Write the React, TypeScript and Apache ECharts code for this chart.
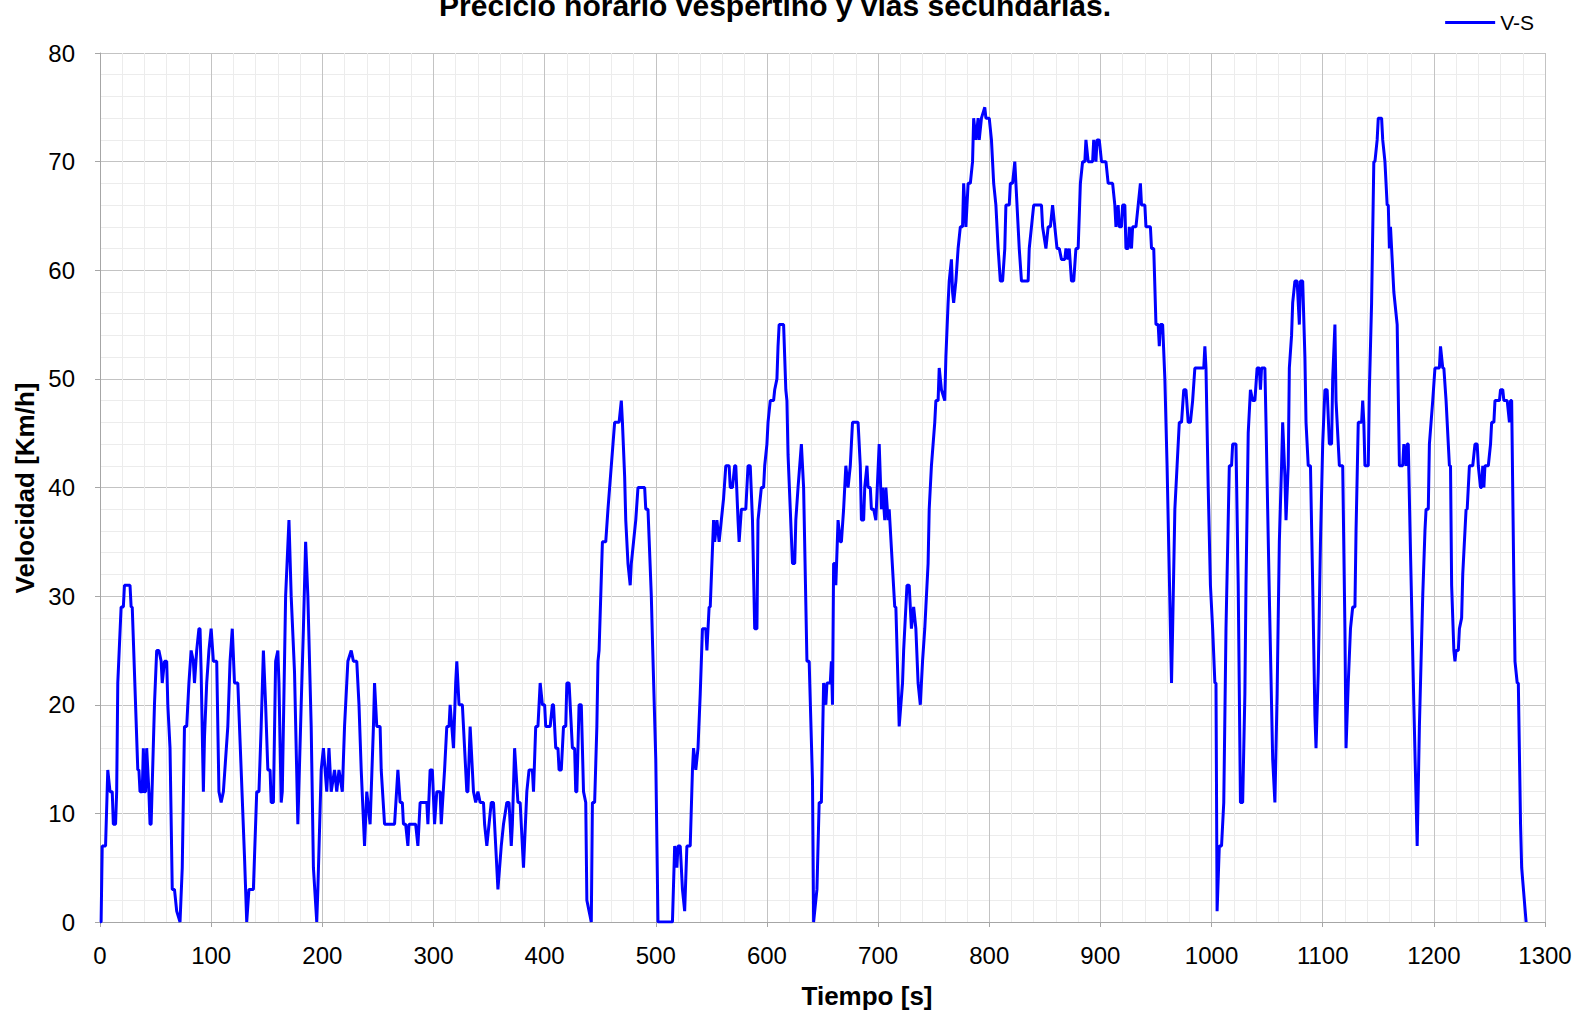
import React, { useEffect, useRef } from "react";
import * as echarts from "echarts";

// Velocidad registrada [tiempo s, velocidad km/h], por tramos
const tramo1 = [
  [0, 0], [1, 0], [2, 7], [5, 7], [7, 14], [9, 12], [11, 12], [12, 9], [14, 9], [15, 12], [16, 22], [19, 29], [21, 29], [22, 31], [27, 31], [28, 29], [29, 29], [34, 14], [35, 14], [36, 12], [38, 12], [39, 16], [40, 12], [41, 12], [42, 16], [44, 12], [45, 9], [46, 9], [49, 20], [51, 25], [53, 25], [55, 24], [56, 22], [58, 24], [60, 24], [61, 20], [63, 16], [65, 3], [67, 3], [69, 1], [72, 0], [74, 5], [76, 18], [78, 18], [80, 22], [82, 25], [84, 24], [85, 22], [87, 25], [89, 27], [90, 27], [91, 23], [93, 12], [94, 17], [96, 22], [98, 25], [100, 27], [102, 24], [105, 24], [107, 12], [109, 11], [111, 12], [115, 18], [117, 24], [119, 27], [121, 22], [124, 22], [127, 14], [130, 6], [132, 0], [134, 3], [138, 3], [141, 12], [143, 12], [145, 18], [147, 25], [149, 20], [151, 14], [153, 14], [154, 11], [156, 11], [158, 24], [160, 25], [161, 22], [163, 11], [164, 12], [167, 30], [170, 37], [172, 30], [175, 23], [178, 9], [181, 20], [183, 27], [185, 35], [187, 30], [190, 18], [192, 5], [195, 0], [196, 3], [199, 14], [201, 16], [204, 12], [206, 16], [208, 12], [211, 14], [213, 12], [215, 14], [218, 12],
];
const tramo2 = [
  [220, 18], [222, 22], [223, 24], [226, 25], [228, 24], [231, 24], [233, 20], [235, 14], [238, 7], [240, 12], [243, 9], [244, 12], [246, 18], [247, 22], [249, 18], [252, 18], [253, 14], [256, 9], [265, 9], [268, 14], [270, 11], [272, 11], [273, 9], [275, 9], [277, 7], [278, 9], [284, 9], [286, 7], [288, 11], [294, 11], [295, 9], [297, 14], [299, 14], [301, 9], [303, 12], [306, 12], [307, 9], [310, 14], [312, 18], [314, 18], [315, 20], [318, 16], [320, 22], [321, 24], [323, 20], [326, 20], [327, 18], [330, 12], [331, 12], [333, 18], [336, 12], [338, 11], [340, 12], [342, 11], [345, 11], [346, 9], [348, 7], [350, 9], [352, 11], [354, 11], [356, 7], [358, 3], [361, 7], [363, 9], [366, 11], [368, 11], [370, 7], [371, 9], [373, 16], [376, 11], [378, 11], [380, 7], [381, 5], [384, 12], [386, 14], [389, 14], [390, 12], [392, 18], [394, 18], [396, 22], [398, 20], [400, 20], [401, 18], [405, 18], [407, 20], [408, 20], [410, 16], [412, 16], [413, 14], [415, 14], [417, 18], [419, 18], [420, 22], [422, 22], [425, 16], [427, 16], [428, 12], [429, 12], [431, 20], [433, 20], [435, 12], [437, 11], [438, 2], [440, 1],
];
const tramo3 = [
  [442, 0], [443, 11], [445, 11], [447, 18], [448, 24], [449, 25], [452, 35], [455, 35], [457, 38], [463, 46], [467, 46], [469, 48], [470, 46], [472, 41], [473, 37], [475, 33], [477, 31], [478, 33], [480, 35], [482, 37], [484, 40], [490, 40], [491, 38], [493, 38], [496, 30], [497, 26], [500, 15], [502, 0], [515, 0], [517, 7], [519, 5], [520, 7], [522, 7], [524, 3], [526, 1], [528, 7], [531, 7], [533, 14], [534, 16], [536, 14], [538, 16], [540, 21], [542, 27], [545, 27], [546, 25], [548, 29], [549, 29], [552, 37], [553, 35], [555, 37], [557, 35], [559, 37], [561, 39], [563, 42], [566, 42], [567, 40], [569, 40], [571, 42], [572, 42], [574, 37], [575, 35], [577, 38], [581, 38], [583, 42], [585, 42], [587, 37], [589, 27], [591, 27], [592, 37], [595, 40], [597, 40], [598, 42], [600, 44], [601, 46], [603, 48], [606, 48], [607, 49], [609, 50], [610, 53], [611, 55], [615, 55], [617, 49], [618, 48], [619, 43], [623, 33], [625, 33], [626, 37], [628, 40], [631, 44], [633, 40], [636, 24], [638, 24], [641, 13], [642, 0], [645, 3], [647, 11], [649, 11], [651, 22], [653, 20], [654, 22], [657, 22], [658, 24], [659, 20],
];
const tramo4 = [
  [660, 33], [661, 33], [662, 31], [664, 37], [666, 35], [667, 35], [669, 38], [671, 42], [673, 40], [675, 42], [676, 44], [677, 46], [682, 46], [684, 42], [685, 37], [687, 37], [688, 40], [690, 42], [691, 40], [693, 40], [694, 38], [696, 38], [698, 37], [701, 44], [703, 38], [704, 40], [706, 37], [707, 40], [709, 37], [710, 38], [715, 29], [716, 29], [719, 18], [722, 22], [723, 25], [725, 29], [726, 31], [728, 31], [730, 27], [732, 29], [734, 27], [736, 22], [738, 20], [740, 24], [742, 27], [743, 29], [745, 33], [746, 38], [748, 42], [751, 46], [752, 48], [754, 48], [755, 51], [757, 49], [760, 48], [761, 52], [763, 57], [764, 59], [766, 61], [767, 58], [768, 57], [770, 59], [772, 62], [774, 64], [776, 64], [777, 68], [779, 64], [780, 66], [781, 68], [783, 68], [785, 70], [786, 74], [788, 72], [790, 74], [791, 72], [793, 74], [796, 75], [797, 74], [800, 74], [802, 72], [804, 68], [806, 66], [808, 62], [810, 59], [812, 59], [814, 62], [815, 66], [818, 66], [819, 68], [821, 68], [823, 70], [824, 68], [827, 62], [829, 59], [835, 59], [836, 62], [838, 64], [840, 66], [847, 66], [848, 64], [851, 62], [853, 64], [855, 64], [857, 66], [859, 64], [861, 62], [863, 62], [865, 61], [868, 61], [869, 62], [871, 61], [872, 62], [874, 59], [876, 59], [878, 62],
];
const tramo5 = [
  [880, 62], [882, 68], [884, 70], [886, 70], [887, 72], [889, 70], [893, 70], [894, 72], [896, 70], [897, 72], [899, 72], [901, 70], [905, 70], [907, 68], [911, 68], [913, 66], [914, 64], [916, 66], [917, 64], [919, 64], [920, 66], [922, 66], [923, 62], [925, 62], [926, 64], [928, 62], [929, 64], [932, 64], [934, 66], [936, 68], [937, 66], [940, 66], [941, 64], [945, 64], [946, 62], [948, 62], [950, 55], [952, 55], [953, 53], [954, 55], [956, 55], [958, 50], [960, 42], [962, 32], [964, 22], [965, 27], [967, 38], [969, 42], [971, 46], [973, 46], [975, 49], [977, 49], [979, 46], [981, 46], [983, 48], [985, 51], [988, 51], [993, 51], [994, 53], [995, 51], [997, 40], [999, 31], [1001, 27], [1003, 22], [1004, 22], [1005, 1], [1007, 7], [1009, 7], [1011, 11], [1013, 27], [1016, 42], [1018, 42], [1019, 44], [1022, 44], [1024, 31], [1026, 11], [1028, 11], [1030, 21], [1031, 31], [1033, 45], [1035, 49], [1037, 48], [1039, 48], [1041, 51], [1043, 51], [1044, 49], [1045, 51], [1048, 51], [1049, 46], [1052, 30], [1055, 15], [1057, 11], [1059, 21], [1061, 35], [1063, 42], [1064, 46], [1066, 41], [1067, 37], [1069, 42], [1070, 51], [1072, 54], [1073, 57], [1075, 59], [1077, 59], [1079, 55], [1080, 59], [1082, 59], [1084, 52], [1085, 46], [1087, 42], [1089, 42], [1091, 31], [1093, 19], [1094, 16], [1096, 23], [1098, 35],
];
const tramo6 = [
  [1100, 44], [1102, 49], [1104, 49], [1106, 44], [1108, 44], [1109, 50], [1111, 55], [1112, 48], [1114, 44], [1115, 42], [1118, 42], [1120, 27], [1121, 16], [1123, 22], [1125, 27], [1127, 29], [1129, 29], [1130, 36], [1132, 46], [1135, 46], [1136, 48], [1137, 46], [1138, 42], [1141, 42], [1142, 49], [1144, 57], [1146, 70], [1147, 70], [1149, 72], [1150, 74], [1153, 74], [1154, 72], [1156, 70], [1158, 66], [1159, 66], [1160, 62], [1161, 64], [1162, 62], [1164, 58], [1167, 55], [1169, 42], [1172, 42], [1173, 44], [1175, 42], [1176, 44], [1177, 44], [1179, 34], [1182, 20], [1185, 7], [1187, 18], [1189, 26], [1190, 30], [1192, 36], [1193, 38], [1195, 38], [1196, 44], [1199, 48], [1201, 51], [1205, 51], [1206, 53], [1208, 51], [1209, 51], [1211, 48], [1213, 44], [1214, 42], [1215, 42], [1216, 31], [1218, 25], [1219, 24], [1220, 25], [1222, 25], [1223, 27], [1225, 28], [1226, 32], [1229, 38], [1230, 38], [1232, 42], [1235, 42], [1237, 44], [1239, 44], [1240, 42], [1242, 40], [1243, 40], [1244, 42], [1245, 40], [1246, 42], [1249, 42], [1251, 44], [1252, 46], [1254, 46], [1255, 48], [1259, 48], [1260, 49], [1262, 49], [1263, 48], [1266, 48], [1268, 46], [1269, 48], [1270, 48], [1272, 31], [1273, 24], [1275, 22], [1276, 22], [1278, 9], [1279, 5], [1283, 0],
];

const serieNombre = "V-S";
const titulo = "Precicio horario vespertino y vías secundarias.";
const ejeX = "Tiempo [s]";
const ejeY = "Velocidad [Km/h]";

const FONT = '"Liberation Sans", Arial, sans-serif';

export default function App() {
  const ref = useRef<HTMLDivElement>(null);

  useEffect(() => {
    if (!ref.current) return;
    const chart = echarts.init(ref.current, undefined, { renderer: "svg" });
    const datos = [...tramo1, ...tramo2, ...tramo3, ...tramo4, ...tramo5, ...tramo6];

    const etiqueta = {
      fontSize: 24,
      color: "#000",
      fontFamily: FONT,
      formatter: (v: number) => String(v),
    };

    chart.setOption({
      animation: false,
      backgroundColor: "#ffffff",
      textStyle: { fontFamily: FONT },
      grid: { left: 100, right: 36, top: 53, bottom: 92, containLabel: false },
      legend: {
        right: 42,
        top: 7,
        icon: "rect",
        itemWidth: 50,
        itemHeight: 3,
        itemGap: 5,
        textStyle: { fontSize: 21, color: "#000", fontFamily: FONT },
        data: [serieNombre],
      },
      xAxis: {
        type: "value",
        min: 0,
        max: 1300,
        interval: 100,
        axisLine: { show: true, lineStyle: { color: "#a6a6a6", width: 1 } },
        axisTick: { show: true, length: 5, lineStyle: { color: "#a6a6a6" } },
        axisLabel: { ...etiqueta, margin: 21 },
        splitLine: { show: true, lineStyle: { color: "#c3c3c3", width: 1 } },
        minorTick: { show: false, splitNumber: 5 },
        minorSplitLine: { show: true, lineStyle: { color: "#ececec", width: 1 } },
      },
      yAxis: {
        type: "value",
        min: 0,
        max: 80,
        interval: 10,
        axisLine: { show: true, lineStyle: { color: "#a6a6a6", width: 1 } },
        axisTick: { show: true, length: 5, lineStyle: { color: "#a6a6a6" } },
        axisLabel: { ...etiqueta, margin: 25 },
        splitLine: { show: true, lineStyle: { color: "#c3c3c3", width: 1 } },
        minorTick: { show: false, splitNumber: 5 },
        minorSplitLine: { show: true, lineStyle: { color: "#ececec", width: 1 } },
      },
      graphic: [
        {
          type: "text",
          x: 775,
          y: 5,
          style: {
            text: titulo,
            fontSize: 30,
            fontWeight: "bold",
            fontFamily: FONT,
            fill: "#000",
            align: "center",
            verticalAlign: "middle",
          },
        },
        {
          type: "text",
          x: 867,
          y: 996,
          style: {
            text: ejeX,
            fontSize: 26,
            fontWeight: "bold",
            fontFamily: FONT,
            fill: "#000",
            align: "center",
            verticalAlign: "middle",
          },
        },
        {
          type: "text",
          x: 25,
          y: 488,
          rotation: Math.PI / 2,
          style: {
            text: ejeY,
            fontSize: 26,
            fontWeight: "bold",
            fontFamily: FONT,
            fill: "#000",
            align: "center",
            verticalAlign: "middle",
          },
        },
      ],
      series: [
        {
          name: serieNombre,
          type: "line",
          data: datos,
          showSymbol: false,
          symbol: "none",
          color: "#0000ff",
          lineStyle: { color: "#0000ff", width: 3 },
          z: 5,
        },
      ],
    });

    return () => chart.dispose();
  }, []);

  return (
    <div
      ref={ref}
      style={{ position: "fixed", left: 0, top: 0, width: 1581, height: 1014, background: "#fff" }}
    />
  );
}
